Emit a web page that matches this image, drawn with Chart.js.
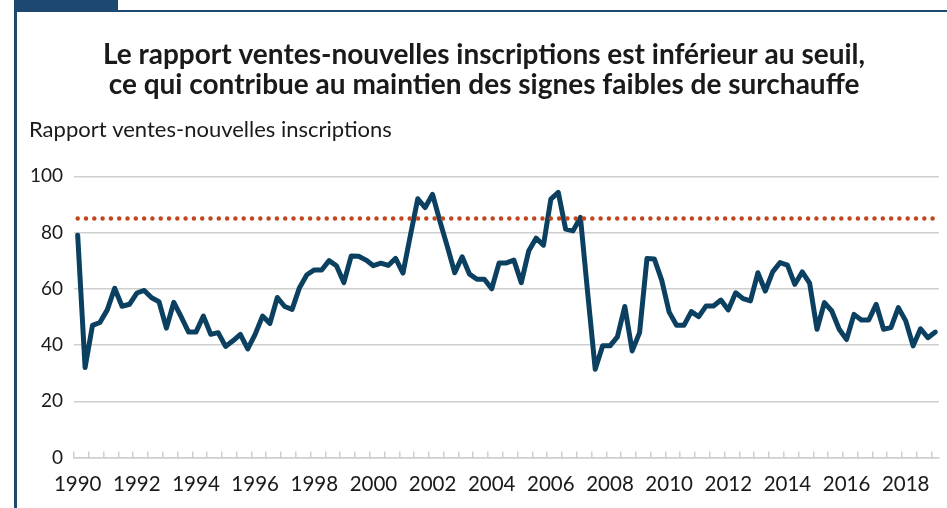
<!DOCTYPE html>
<html lang="fr">
<head>
<meta charset="utf-8">
<title>Rapport ventes-nouvelles inscriptions</title>
<script src="https://cdn.jsdelivr.net/npm/chart.js@4.4.1/dist/chart.umd.min.js"></script>
<style>
    html, body { margin: 0; padding: 0; background: #fff; }
    body { width: 947px; height: 508px; position: relative; overflow: hidden; }
    .cadre { position: absolute; left: 14px; top: 10px; right: 0; bottom: 0; border-left: 3px solid #1d4870; border-top: 2px solid #1d4870; }
    .onglet { position: absolute; left: 14px; top: 0; width: 104px; height: 12px; background: #1d4870; }
    #zone { position: absolute; left: 20px; top: 14px; width: 927px; height: 494px; }
</style>
</head>
<body>
<div class="cadre"></div>
<div class="onglet"></div>
<div id="zone"><canvas id="graphique"></canvas></div>
<script>
// Données trimestrielles, 1990T1 à 2019T1
const premiereAnnee = 1990;
const rapport = [
    79, 32, 47, 48, 52.5, 60.2, 53.8, 54.5, 58.5, 59.4, 56.8, 55.4,
    46, 55.2, 50, 44.6, 44.6, 50.3, 43.8, 44.4, 39.5, 41.5, 43.8, 38.6,
    43.8, 50.3, 47.7, 56.9, 53.7, 52.7, 60.4, 65, 66.7, 66.7, 70, 68.2,
    62.2, 71.7, 71.6, 70.2, 68.2, 69.1, 68.3, 70.8, 65.6, 79, 92, 88.9,
    93.6, 84, 75, 65.7, 71.4, 65.2, 63.4, 63.4, 60, 69.2, 69.2, 70.2,
    62.2, 73.4, 78, 75.5, 91.9, 94.3, 81.2, 80.6, 85.4, 58, 31.4, 39.7,
    39.7, 42.9, 53.7, 37.9, 44.4, 70.8, 70.6, 63, 51.7, 47, 47, 51.9,
    50.1, 53.9, 53.9, 56, 52.5, 58.6, 56.5, 55.7, 65.7, 59.2, 66, 69.3,
    68.4, 61.6, 66, 62, 45.6, 55.1, 52.1, 45.6, 42, 50.9, 48.9, 48.9,
    54.5, 45.6, 46.2, 53.3, 48.6, 39.7, 45.8, 42.6, 44.6
];
const seuil = 85;
const anneesAffichees = [1990, 1992, 1994, 1996, 1998, 2000, 2002, 2004, 2006, 2008, 2010, 2012, 2014, 2016, 2018];
const graduationsY = [0, 20, 40, 60, 80, 100];

const titre = [
    'Le rapport ventes-nouvelles inscriptions est inférieur au seuil,',
    'ce qui contribue au maintien des signes faibles de surchauffe'
];
const titreAxe = 'Rapport ventes-nouvelles inscriptions';

const couleurSerie = '#0b4060';
const couleurSeuil = '#c2461d';
const couleurGrille = '#cfcfcf';
const couleurTexte = '#1a1a1a';

Chart.defaults.font.family = 'Lato';
Chart.defaults.color = couleurTexte;

function indexToYear(i) {
    return premiereAnnee + i / 4;
}

const pointsRapport = rapport.map((v, i) => ({ x: i, y: v }));
const pointsSeuil = rapport.map((v, i) => ({ x: i, y: seuil }));

new Chart(document.getElementById('graphique').getContext('2d'), {
    type: 'line',
    data: {
        datasets: [
            {
                label: 'Seuil',
                data: pointsSeuil,
                borderColor: couleurSeuil,
                borderWidth: 4.5,
                borderDash: [0, 8.3],
                borderCapStyle: 'round',
                pointRadius: 0,
                order: 0
            },
            {
                label: titreAxe,
                data: pointsRapport,
                borderColor: couleurSerie,
                borderWidth: 5,
                borderJoinStyle: 'round',
                borderCapStyle: 'round',
                tension: 0,
                pointRadius: 0,
                order: 1
            }
        ]
    },
    options: {
        responsive: true,
        maintainAspectRatio: false,
        animation: false,
        layout: { padding: { left: 9, right: 8, top: 0, bottom: 0 } },
        plugins: {
            legend: { display: false },
            tooltip: { enabled: false },
            title: {
                display: true,
                text: titre,
                color: couleurTexte,
                font: { size: 28, weight: 'bold', lineHeight: 1.07 },
                padding: { top: 26, bottom: 17 }
            },
            subtitle: {
                display: true,
                text: titreAxe,
                align: 'start',
                color: couleurTexte,
                font: { size: 22, lineHeight: 1.2 },
                padding: { top: 0, bottom: 33 }
            }
        },
        scales: {
            x: {
                type: 'linear',
                min: -0.5,
                max: rapport.length - 0.5,
                afterBuildTicks: scale => {
                    const ticks = [];
                    for (let v = -0.5; v <= rapport.length - 0.5; v += 2) ticks.push({ value: v });
                    scale.ticks = ticks;
                },
                afterFit: scale => {
                    scale.height = 50.5;
                },
                grid: {
                    drawOnChartArea: false,
                    drawTicks: true,
                    tickLength: -6,
                    color: couleurGrille,
                    lineWidth: 1.5
                },
                border: { display: true, color: couleurGrille, width: 1.5 },
                ticks: {
                    autoSkip: false,
                    maxRotation: 0,
                    padding: 0,
                    labelOffset: 3.7,
                    font: { size: 20.5, lineHeight: 3.2 },
                    callback: value => {
                        const year = indexToYear(value + 0.5);
                        return anneesAffichees.includes(year) ? String(year) : '';
                    }
                }
            },
            y: {
                min: 0,
                max: 100,
                afterBuildTicks: scale => {
                    scale.ticks = graduationsY.map(v => ({ value: v }));
                },
                afterFit: scale => {
                    scale.width = 45;
                },
                grid: { color: couleurGrille, lineWidth: 1.5, drawTicks: false },
                border: { display: false },
                ticks: { padding: 11, font: { size: 19 } }
            }
        }
    }
});
</script>
</body>
</html>
